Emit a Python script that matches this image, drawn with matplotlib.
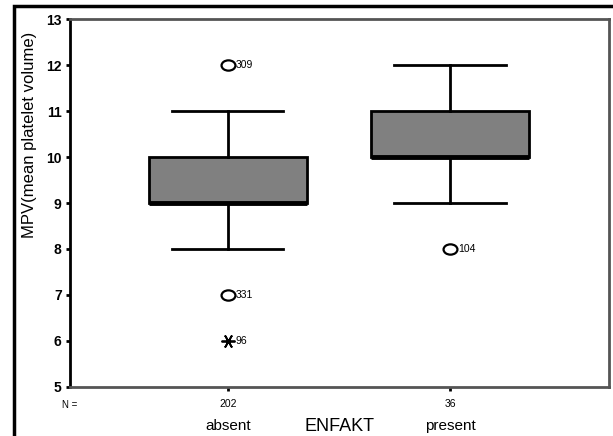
import matplotlib
matplotlib.use('Agg')
import matplotlib.pyplot as plt
from matplotlib.patches import Rectangle
from matplotlib.path import Path
from matplotlib.transforms import Affine2D

plt.rcParams['font.family'] = ['Liberation Sans', 'DejaVu Sans']

# group data
groups = ['absent', 'present']
counts = [202, 36]
q1 = [9, 10]
med = [9, 10]
q3 = [10, 11]
wlo = [8, 9]
whi = [11, 12]

# outliers: group index, value, case label, kind
out_group = [0, 0, 0, 1]
out_value = [12, 7, 6, 8]
out_label = ['309', '331', '96', '104']
out_kind = ['o', 'o', '*', 'o']

# slightly flattened circle like the SPSS outlier symbol
oval = Path.unit_circle().transformed(Affine2D().scale(1.35, 1.0))

fig = plt.figure(figsize=(6.13, 4.36), dpi=100)
ax = fig.add_axes([0.1142, 0.1124, 0.8793, 0.844])

positions = [1, 2]
stats = []
for i in range(len(groups)):
    stats.append({'med': med[i], 'q1': q1[i], 'q3': q3[i],
                  'whislo': wlo[i], 'whishi': whi[i], 'fliers': [],
                  'label': groups[i]})

ax.bxp(stats, positions=positions, widths=0.71, capwidths=0.5,
       patch_artist=True, showfliers=False,
       boxprops=dict(facecolor='#808080', edgecolor='black', linewidth=2),
       medianprops=dict(color='black', linewidth=3.5),
       whiskerprops=dict(color='black', linewidth=2),
       capprops=dict(color='black', linewidth=2))

for g, v, lab, k in zip(out_group, out_value, out_label, out_kind):
    x = positions[g]
    if k == 'o':
        ax.plot(x, v, marker=oval, ms=10, mfc='white', mec='black', mew=1.6,
                linestyle='none', zorder=5)
    else:
        ax.plot(x, v, marker=(6, 2, 90), ms=10, color='black', mew=1.3,
                linestyle='none', zorder=5)
    ax.text(x + 0.035, v, lab, fontsize=7.5, va='center', ha='left')

ax.set_xlim(0.289, 2.716)
ax.set_ylim(5, 13)
ax.set_yticks(range(5, 14))
ax.tick_params(axis='y', direction='out', length=3, width=2, labelsize=10,
               pad=3)
for t in ax.get_yticklabels():
    t.set_fontweight('bold')
ax.set_xticks(positions)
ax.set_xticklabels([f'{n}' for n in counts], fontsize=7.5)
ax.tick_params(axis='x', direction='out', length=3, width=2, pad=6)

for s in ['top', 'right', 'bottom']:
    ax.spines[s].set_color('#555555')
    ax.spines[s].set_linewidth(2)
ax.spines['left'].set_color('black')
ax.spines['left'].set_linewidth(2)

# category names under counts
for p, g in zip(positions, groups):
    ax.text(p, -0.088, g, transform=ax.get_xaxis_transform(), ha='center',
            va='top', fontsize=11)
ax.text(0.0, -0.035, 'N =', transform=ax.transAxes, ha='center', va='top',
        fontsize=7)
ax.text(0.5, -0.085, 'ENFAKT', transform=ax.transAxes, ha='center', va='top',
        fontsize=13)

fig.text(30 / 613, 1 - 135 / 436, 'MPV(mean platelet volume)', rotation=90,
         ha='center', va='center', fontsize=12)

# outer frame
fig.patches.append(Rectangle((14 / 613, -0.2), 1.2, 1.2 - 6 / 436,
                             transform=fig.transFigure, fill=False,
                             edgecolor='black', linewidth=2.5))

fig.savefig('out.png', dpi=100)
